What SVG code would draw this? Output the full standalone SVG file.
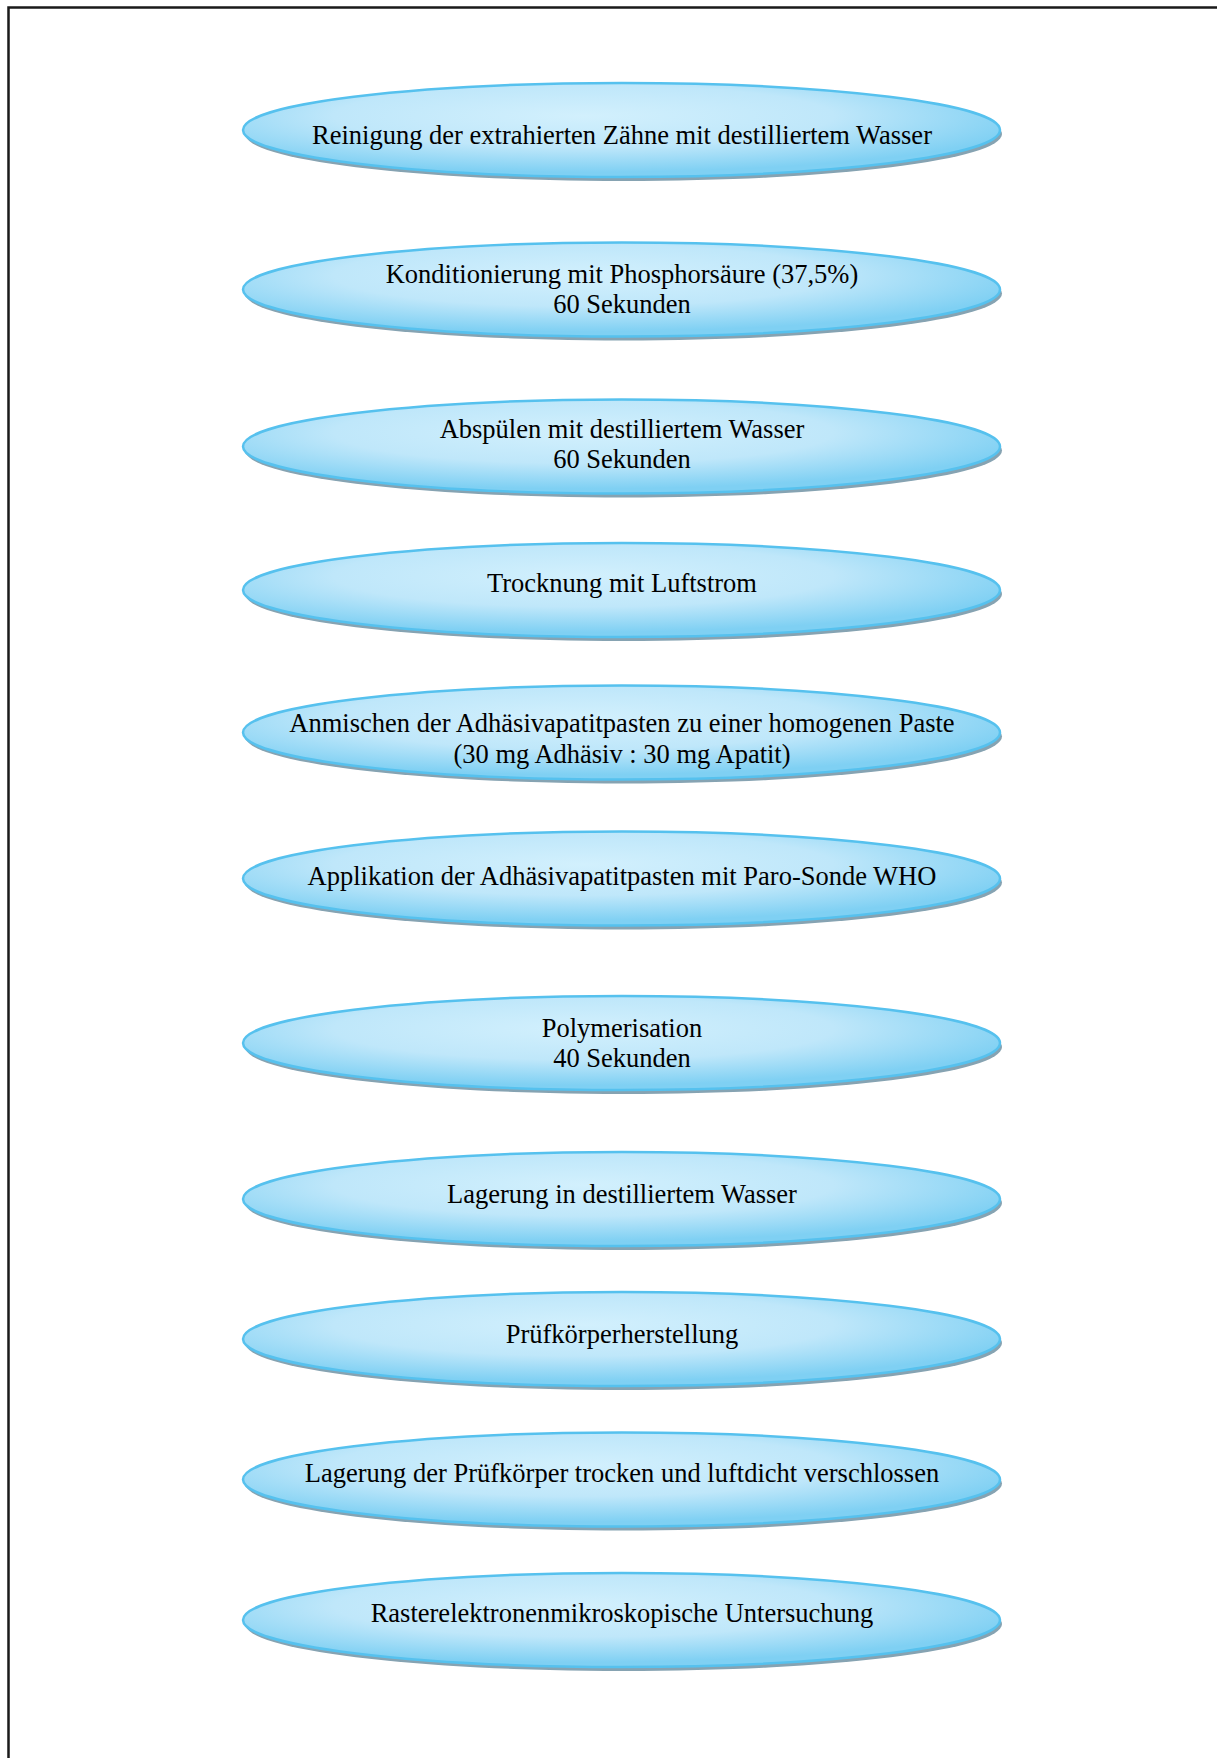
<svg xmlns="http://www.w3.org/2000/svg" width="1217" height="1758" viewBox="0 0 1217 1758">
<style>
.sh{fill:#86a3b2;}
.el{fill:url(#g);stroke:#56c1ee;stroke-width:2.5;}
.t{font-family:"Liberation Serif","Times New Roman",serif;font-size:26.5px;fill:#000;text-anchor:middle;}
.fr{stroke:#1a1a1a;stroke-width:2.5;fill:none;}
</style>
<defs>
<radialGradient id="g" cx="0.45" cy="0.35" r="0.6">
<stop offset="0" stop-color="#d2f0fd"/>
<stop offset="0.55" stop-color="#bfe7fa"/>
<stop offset="1" stop-color="#7fd0f3"/>
</radialGradient>
</defs>
<rect width="1217" height="1758" fill="#fff"/>
<g id="frame">
<path class="fr" d="M8.5 1758 V7.5 H1217"/>
</g>
<g id="connectors"></g>
<g id="n1"><ellipse class="sh" cx="623.5" cy="134" rx="378.5" ry="47"/><ellipse class="el" cx="621.5" cy="130" rx="378.5" ry="47"/><text class="t" x="622" y="143.5">Reinigung der extrahierten Zähne mit destilliertem Wasser</text></g>
<g id="n2"><ellipse class="sh" cx="623.5" cy="293.5" rx="378.5" ry="47"/><ellipse class="el" cx="621.5" cy="289.5" rx="378.5" ry="47"/><text class="t" x="622" y="283">Konditionierung mit Phosphorsäure (37,5%)</text><text class="t" x="622" y="313">60 Sekunden</text></g>
<g id="n3"><ellipse class="sh" cx="623.5" cy="450.5" rx="378.5" ry="47"/><ellipse class="el" cx="621.5" cy="446.5" rx="378.5" ry="47"/><text class="t" x="622" y="438">Abspülen mit destilliertem Wasser</text><text class="t" x="622" y="468">60 Sekunden</text></g>
<g id="n4"><ellipse class="sh" cx="623.5" cy="594" rx="378.5" ry="47"/><ellipse class="el" cx="621.5" cy="590" rx="378.5" ry="47"/><text class="t" x="622" y="592">Trocknung mit Luftstrom</text></g>
<g id="n5"><ellipse class="sh" cx="623.5" cy="736.5" rx="378.5" ry="47"/><ellipse class="el" cx="621.5" cy="732.5" rx="378.5" ry="47"/><text class="t" x="622" y="731.5">Anmischen der Adhäsivapatitpasten zu einer homogenen Paste</text><text class="t" x="622" y="763">(30 mg Adhäsiv : 30 mg Apatit)</text></g>
<g id="n6"><ellipse class="sh" cx="623.5" cy="882.5" rx="378.5" ry="47"/><ellipse class="el" cx="621.5" cy="878.5" rx="378.5" ry="47"/><text class="t" x="622" y="885">Applikation der Adhäsivapatitpasten mit Paro-Sonde WHO</text></g>
<g id="n7"><ellipse class="sh" cx="623.5" cy="1047" rx="378.5" ry="47"/><ellipse class="el" cx="621.5" cy="1043" rx="378.5" ry="47"/><text class="t" x="622" y="1037">Polymerisation</text><text class="t" x="622" y="1067">40 Sekunden</text></g>
<g id="n8"><ellipse class="sh" cx="623.5" cy="1203" rx="378.5" ry="47"/><ellipse class="el" cx="621.5" cy="1199" rx="378.5" ry="47"/><text class="t" x="622" y="1203">Lagerung in destilliertem Wasser</text></g>
<g id="n9"><ellipse class="sh" cx="623.5" cy="1343" rx="378.5" ry="47"/><ellipse class="el" cx="621.5" cy="1339" rx="378.5" ry="47"/><text class="t" x="622" y="1343">Prüfkörperherstellung</text></g>
<g id="n10"><ellipse class="sh" cx="623.5" cy="1483.5" rx="378.5" ry="47"/><ellipse class="el" cx="621.5" cy="1479.5" rx="378.5" ry="47"/><text class="t" x="622" y="1482">Lagerung der Prüfkörper trocken und luftdicht verschlossen</text></g>
<g id="n11"><ellipse class="sh" cx="623.5" cy="1624" rx="378.5" ry="47"/><ellipse class="el" cx="621.5" cy="1620" rx="378.5" ry="47"/><text class="t" x="622" y="1622">Rasterelektronenmikroskopische Untersuchung</text></g>
</svg>
